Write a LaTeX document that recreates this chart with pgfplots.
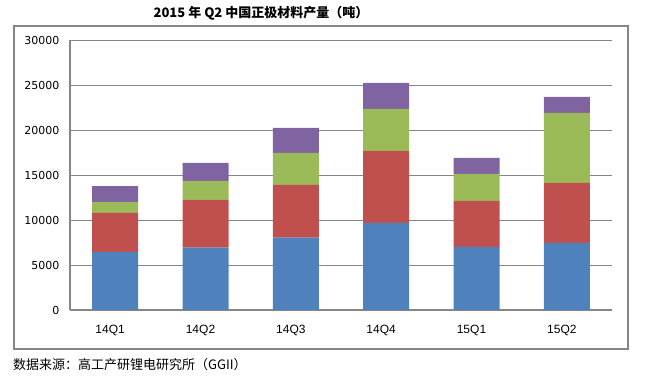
\documentclass[border=0pt]{standalone}
\usepackage{pgfplots}
\pgfplotsset{compat=1.18}
\usepackage{fontspec}
\setmainfont{Liberation Sans}
\newfontfamily\cjk{Noto Sans CJK SC}
\newfontfamily\dejavu{DejaVu Sans}
\definecolor{sblue}{HTML}{4F81BD}
\definecolor{sred}{HTML}{C0504D}
\definecolor{sgreen}{HTML}{9BBB59}
\definecolor{spurple}{HTML}{8064A2}
\definecolor{gridc}{HTML}{868686}
\begin{document}
\begin{tikzpicture}[x=1pt,y=1pt]
\useasboundingbox (0,0) rectangle (650,382);
\draw[color=gridc, line width=1.2pt] (14,33) rectangle (628,356);
\node[font=\cjk\bfseries\fontsize{13}{15}\selectfont] at (261,369) {2015 年 Q2 中国正极材料产量（吨）};
\node[anchor=west,font=\cjk\fontsize{13}{15}\selectfont,inner sep=0pt] at (13,17) {数据来源：高工产研锂电研究所（GGII）};
\begin{axis}[
  at={(70pt,72pt)}, anchor=south west, scale only axis,
  width=542pt, height=269.5pt,
  ybar stacked, bar width=46pt,
  xmin=-0.5, xmax=5.5, ymin=0, ymax=30000,
  ytick={0,5000,10000,15000,20000,25000,30000},
  xtick={0,1,2,3,4,5},
  xticklabels={14Q1,14Q2,14Q3,14Q4,15Q1,15Q2},
  scaled y ticks=false,
  ymajorgrids,
  grid style={color=gridc, line width=1.1pt},
  axis x line*=bottom, axis y line*=left,
  axis line style={color=gridc, line width=1.1pt, -},
  major tick length=0pt,
  /pgf/number format/assume math mode=true,
  /pgf/number format/1000 sep={},
  yticklabel style={font=\dejavu\fontsize{11}{13}\selectfont, xshift=-7pt},
  xticklabel style={font=\fontsize{12}{14}\selectfont, yshift=-12pt, xshift=-5pt},
]
\addplot[fill=sblue, draw=none] coordinates {(0,6460) (1,6940) (2,8050) (3,9690) (4,7020) (5,7460)};
\addplot[fill=sred, draw=none] coordinates {(0,4340) (1,5310) (2,5870) (3,8010) (4,5120) (5,6680)};
\addplot[fill=sgreen, draw=none] coordinates {(0,1230) (1,2120) (2,3560) (3,4680) (4,3000) (5,7800)};
\addplot[fill=spurple, draw=none] coordinates {(0,1770) (1,2000) (2,2790) (3,2900) (4,1790) (5,1780)};
\end{axis}
\end{tikzpicture}
\end{document}
